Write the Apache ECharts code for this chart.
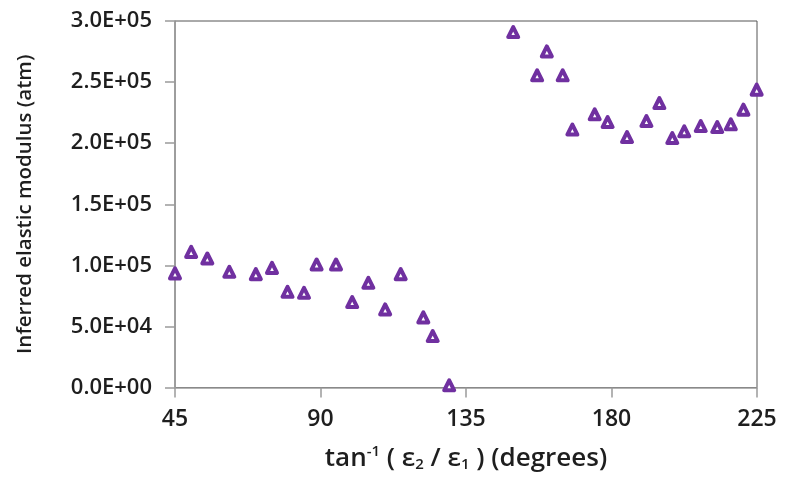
<!DOCTYPE html>
<html>
<head>
<meta charset="utf-8">
<script src="https://cdn.jsdelivr.net/npm/echarts@6/dist/echarts.min.js"></script>
<style>html,body{margin:0;padding:0;background:#fff}#c{width:794px;height:478px}</style>
</head>
<body>
<div id="c"></div>
<script>
// Angle tan^-1(e2/e1) in degrees
var angles = [45, 50, 55, 61.8, 70, 75, 79.8, 84.9, 88.8, 94.8, 99.8, 104.8, 110, 114.8, 121.8, 124.7, 129.8,
              149.6, 160, 157, 164.9, 167.9, 174.8, 178.8, 184.8, 190.8, 194.8, 198.8, 202.5, 207.6, 212.7, 216.9, 220.8, 224.9];
// Inferred elastic modulus (atm)
var moduli = [93400, 111000, 105600, 94700, 92800, 97900, 78300, 77500, 100700, 100700, 69900, 85700, 63900, 92800, 57400, 42100, 1800,
              290900, 275100, 255500, 255500, 211100, 223600, 217300, 205000, 218100, 232800, 204200, 209700, 214000, 213200, 215400, 227400, 243800];
var xTicks = [45, 90, 135, 180, 225];
var yTicks = [0, 50000, 100000, 150000, 200000, 250000, 300000];

var points = angles.map(function (a, i) { return [a, moduli[i]]; });

function sci(v) {
  var s = Number(v).toExponential(1); // e.g. 3.0e+5
  var parts = s.split('e');
  var exp = parseInt(parts[1], 10);
  var sign = exp < 0 ? '-' : '+';
  var e = Math.abs(exp);
  return parts[0] + 'E' + sign + (e < 10 ? '0' + e : e);
}

var chart = echarts.init(document.getElementById('c'), null, {renderer: 'canvas'});
var font = '"Open Sans", "Liberation Sans", sans-serif';
var txt = '#1e1e1e';
chart.setOption({
  animation: false,
  backgroundColor: '#ffffff',
  grid: {left: 175, right: 37, top: 21, bottom: 90.5, show: true, borderColor: '#555', borderWidth: 1, backgroundColor: 'transparent'},
  xAxis: {
    type: 'value',
    min: xTicks[0], max: xTicks[xTicks.length - 1], interval: 45,
    axisLine: {show: true, onZero: false, lineStyle: {color: '#9a9a9a', width: 1.5}},
    axisTick: {show: true, inside: false, length: 10, lineStyle: {color: '#9a9a9a', width: 1.5}},
    splitLine: {show: false},
    axisLabel: {color: txt, fontSize: 23, fontWeight: 600, fontFamily: font, margin: 20},
    name: '{t|tan}{sup|-1}{t| ( ε}{sub|2}{t| / ε}{sub|1}{t| ) (degrees)}',
    nameLocation: 'middle', nameGap: 57,
    nameTextStyle: {
      rich: {
        t: {fontSize: 26, fontWeight: 600, fontFamily: font, color: txt},
        sup: {fontSize: 15, fontWeight: 600, fontFamily: font, color: txt, verticalAlign: 'top', padding: [0, 0, 13, 0]},
        sub: {fontSize: 15, fontWeight: 600, fontFamily: font, color: txt, verticalAlign: 'bottom', padding: [11, 0, 0, 0]}
      }
    }
  },
  yAxis: {
    type: 'value',
    min: yTicks[0], max: yTicks[yTicks.length - 1], interval: 50000,
    axisLine: {show: true, onZero: false, lineStyle: {color: '#9a9a9a', width: 1.5}},
    axisTick: {show: true, inside: false, length: 10, lineStyle: {color: '#9a9a9a', width: 1.5}},
    splitLine: {show: false},
    axisLabel: {color: txt, fontSize: 22, fontWeight: 600, fontFamily: font, margin: 23, formatter: sci},
    name: 'Inferred elastic modulus (atm)',
    nameLocation: 'middle', nameGap: 139, nameRotate: 90,
    nameTextStyle: {color: txt, fontSize: 20.5, fontWeight: 600, fontFamily: font}
  },
  series: [{
    type: 'scatter',
    data: points,
    clip: false,
    symbol: 'triangle',
    symbolSize: 10,
    itemStyle: {color: '#ffffff', borderColor: '#7030A0', borderWidth: 4, borderJoin: 'round', opacity: 1}
  }]
});
</script>
</body>
</html>
